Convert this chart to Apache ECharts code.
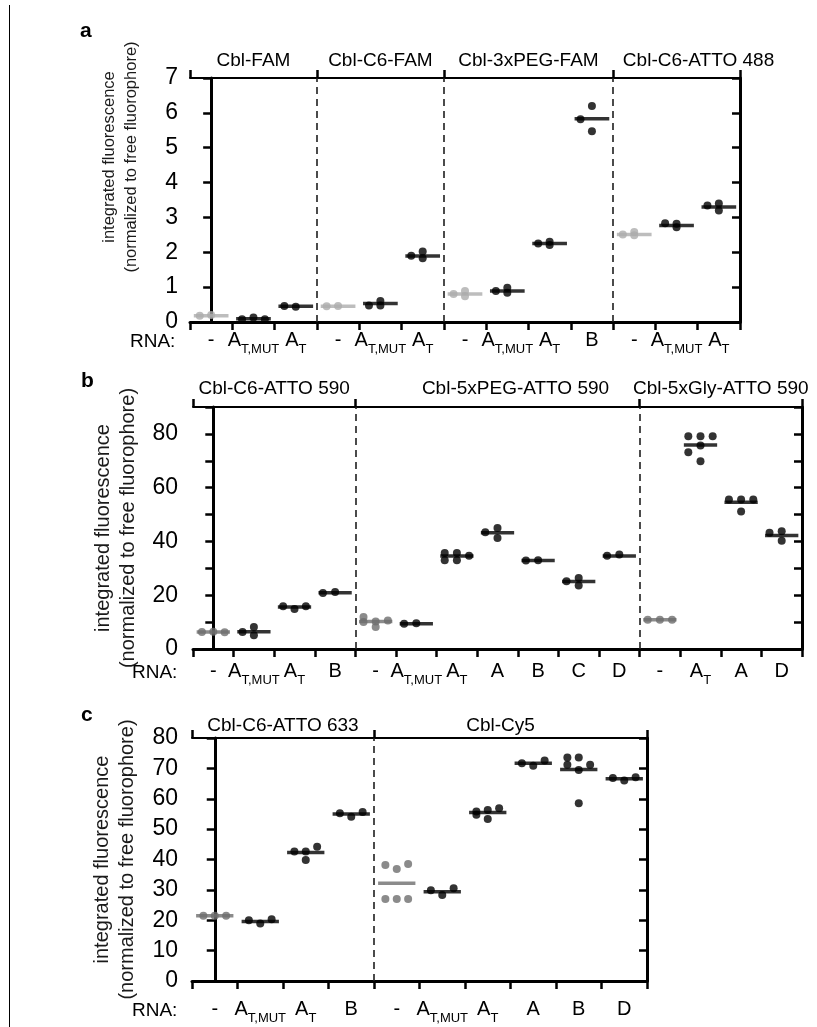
<!DOCTYPE html>
<html>
<head>
<meta charset="utf-8">
<script src="https://cdn.jsdelivr.net/npm/echarts@6/dist/echarts.min.js"></script>
<style>html,body{margin:0;background:#fff}#c{width:817px;height:1027px}</style>
</head>
<body>
<div id="c"></div>
<script>
/* fluorescence scatter panels a/b/c */
const FONT = '"Liberation Sans", Arial, Helvetica, sans-serif';
const YNAME = 'integrated fluorescence\n(normalized to free fluorophore)';

// ---------- panel a ----------
const aTitles = ['Cbl-FAM', 'Cbl-C6-FAM', 'Cbl-3xPEG-FAM', 'Cbl-C6-ATTO 488'];
const aSizes = [3, 3, 4, 3];
const aCats = ['-','ATMUT','AT', '-','ATMUT','AT', '-','ATMUT','AT','B', '-','ATMUT','AT'];
const aMeans = [0.18, 0.09, 0.45, 0.45, 0.53, 1.89, 0.80, 0.89, 2.25, 5.83, 2.51, 2.77, 3.30];
const aPts = [
  [0.18, 0.20], [0.08, 0.13, 0.08], [0.46, 0.44],
  [0.45, 0.46], [0.47, 0.60, 0.47], [1.90, 2.02, 1.83],
  [0.80, 0.89, 0.74], [0.89, 0.98, 0.84], [2.25, 2.30, 2.21], [5.82, 6.20, 5.47],
  [2.51, 2.58, 2.49], [2.83, 2.82, 2.72], [3.34, 3.40, 3.20]
];
const aJit = [
  [-0.27, 0], [-0.27, 0, 0.27], [-0.27, 0],
  [-0.27, 0], [-0.27, 0, 0], [-0.27, 0, 0],
  [-0.27, 0, 0], [-0.27, 0, 0], [-0.27, 0, 0], [-0.27, 0, 0],
  [-0.27, 0, 0], [-0.27, 0, 0], [-0.27, 0, 0]
];

// ---------- panel b ----------
const bTitles = ['Cbl-C6-ATTO 590', 'Cbl-5xPEG-ATTO 590', 'Cbl-5xGly-ATTO 590'];
const bSizes = [4, 7, 4];
const bCats = ['-','ATMUT','AT','B', '-','ATMUT','AT','A','B','C','D', '-','AT','A','D'];
const bMeans = [6.3, 6.4, 15.6, 20.9, 10.2, 9.4, 34.6, 43.2, 32.9, 25.1, 34.6, 10.9, 75.9, 54.6, 42.2];
const bPts = [
  [6.3, 6.4, 6.2], [6.3, 8.2, 5.1], [15.9, 14.9, 15.9], [20.8, 21.2],
  [11.9, 10.0, 10.2, 8.2, 10.6], [9.4, 9.6], [35.7, 33.0, 35.7, 33.0, 34.7], [43.4, 45.0, 41.3],
  [32.9, 33.0], [25.2, 26.4, 23.6], [34.7, 35.1],
  [10.9, 10.9, 10.9], [79.1, 73.2, 79.1, 75.7, 69.8, 79.1], [55.6, 55.6, 51.1, 55.6], [43.2, 43.8, 40.3]
];
const bJit = [
  [-0.28, 0, 0.28], [-0.28, 0, 0], [-0.28, 0, 0.28], [-0.3, 0],
  [-0.3, -0.3, 0, 0, 0.3], [-0.3, 0], [-0.3, -0.3, 0, 0, 0.3], [-0.3, 0, 0],
  [-0.3, 0], [-0.3, 0, 0], [-0.3, 0],
  [-0.3, 0, 0.3], [-0.3, -0.3, 0, 0, 0, 0.3], [-0.3, 0, 0, 0.3], [-0.3, 0, 0]
];

// ---------- panel c ----------
const cTitles = ['Cbl-C6-ATTO 633', 'Cbl-Cy5'];
const cSizes = [4, 6];
const cCats = ['-','ATMUT','AT','B', '-','ATMUT','AT','A','B','D'];
const cMeans = [21.5, 19.6, 42.3, 55.0, 32.2, 29.4, 55.5, 71.7, 69.6, 66.6];
const cPts = [
  [21.5, 21.5, 21.5], [20.0, 18.9, 20.3], [42.6, 42.6, 39.8, 44.2], [55.2, 54.1, 55.6],
  [38.2, 27.0, 36.9, 27.0, 38.5, 27.0], [29.9, 28.3, 30.5], [55.8, 54.7, 56.3, 53.3, 56.9],
  [71.7, 70.9, 72.6], [73.6, 71.2, 73.6, 69.5, 58.5, 71.2], [66.8, 66.0, 67.1]
];
const cJit = [
  [-0.25, 0, 0.25], [-0.25, 0, 0.25], [-0.25, 0, 0, 0.25], [-0.25, 0, 0.25],
  [-0.25, -0.25, 0, 0, 0.25, 0.25], [-0.25, 0, 0.25], [-0.25, -0.25, 0, 0, 0.25],
  [-0.25, 0, 0.25], [-0.25, -0.25, 0, 0, 0, 0.25], [-0.25, 0, 0.25]
];

const PANELS = [
  { titles:aTitles, sizes:aSizes, cats:aCats, means:aMeans, pts:aPts, jit:aJit,
    max:7, step:1, labelStep:1, gray:'#adadad',
    grid:{left:190, top:78, width:550, height:244},
    nameSize:16.5, nameLH:22, nameGap:48, namePad:[0,0,0,86], lblMargin:12, catMargin:8,
    titleDist:8, titleOff:[0,0,0,22] },
  { titles:bTitles, sizes:bSizes, cats:bCats, means:bMeans, pts:bPts, jit:bJit,
    max:90, step:10, labelStep:20, gray:'#6e6e6e',
    grid:{left:193, top:407, width:609, height:242},
    nameSize:20, nameLH:25, nameGap:52, namePad:0, lblMargin:15, catMargin:12,
    titleDist:9, titleOff:[0,18,0] },
  { titles:cTitles, sizes:cSizes, cats:cCats, means:cMeans, pts:cPts, jit:cJit,
    max:80, step:10, labelStep:10, gray:'#6e6e6e',
    grid:{left:192, top:738, width:455, height:243},
    nameSize:20, nameLH:25, nameGap:52, namePad:0, lblMargin:14, catMargin:18,
    titleDist:3, titleOff:[0,-10] }
];

const RICH = {
  m:{fontSize:20, lineHeight:26, verticalAlign:'top', color:'#000', fontFamily:FONT},
  s:{fontSize:13, lineHeight:10, verticalAlign:'bottom', color:'#000', fontFamily:FONT}
};
function fmtCat(v){
  if(v==='ATMUT') return '{m|A}{s|T,MUT}';
  if(v==='AT') return '{m|A}{s|T}';
  return '{m|'+v+'}';
}

const grids=[], xAxes=[], yAxes=[], series=[];
PANELS.forEach((p,g)=>{
  const n = p.cats.length;
  const starts=[]; let s=0; p.sizes.forEach(k=>{starts.push(s); s+=k;});
  const edges = starts.concat([n]);
  const cw = p.grid.width / n;
  const black=[], gray=[], mBlack=[], mGray=[];
  p.pts.forEach((vals,i)=>{
    const isGray = starts.includes(i);
    vals.forEach((v,j)=>(isGray?gray:black).push([i + p.jit[i][j], v]));
    (isGray?mGray:mBlack).push([i, p.means[i]]);
  });

  grids.push(p.grid);
  const AXL = {show:true, lineStyle:{color:'#000', width:3}};
  xAxes.push(
    {type:'category', gridIndex:g, data:p.cats, position:'bottom', boundaryGap:true,
     axisLine:AXL, axisTick:{show:true, interval:0, length:8, lineStyle:{color:'#000', width:2.5}},
     axisLabel:{interval:0, margin:p.catMargin, formatter:fmtCat, rich:RICH, hideOverlap:false},
     splitLine:{show:false}},
    {type:'value', gridIndex:g, min:-0.5, max:n-0.5, show:false},
    {type:'category', gridIndex:g, data:p.cats, position:'top', boundaryGap:true,
     axisLine:{show:true, lineStyle:{color:'#000', width:2}},
     axisTick:{show:true, length:8, interval:(i)=>edges.includes(i), lineStyle:{color:'#000', width:2.5}},
     axisLabel:{show:false}, splitLine:{show:false}}
  );
  yAxes.push(
    {type:'value', gridIndex:g, min:0, max:p.max, interval:p.step, position:'left',
     axisLine:AXL, axisTick:{show:true, length:8, lineStyle:{color:'#000', width:2.5}},
     axisLabel:{fontSize:23, color:'#000', fontFamily:FONT, margin:p.lblMargin,
       formatter:v=>(Math.round(v) % p.labelStep === 0 ? String(v) : '')},
     splitLine:{show:false},
     name:YNAME, nameLocation:'middle', nameGap:p.nameGap,
     nameTextStyle:{fontSize:p.nameSize, lineHeight:p.nameLH, color:'#1a1a1a', fontFamily:FONT, padding:p.namePad}},
    {type:'value', gridIndex:g, min:0, max:p.max, interval:p.step, position:'right',
     axisLine:AXL, axisTick:{show:true, inside:true, length:8, lineStyle:{color:'#000', width:2.5}},
     axisLabel:{show:false}, splitLine:{show:false}}
  );

  const xi = 3*g+1, yi = 2*g;
  const base = {type:'scatter', xAxisIndex:xi, yAxisIndex:yi, silent:true, emphasis:{disabled:true}};
  series.push(
    Object.assign({}, base, {name:'mean'+g, data:mBlack, symbol:'rect', symbolSize:[cw*0.82, 3.5],
      itemStyle:{color:'#000'}, z:2,
      markLine:{silent:true, symbol:'none', label:{show:false},
        lineStyle:{type:[7,5], color:'#1e1e1e', width:1.6},
        data:starts.slice(1).map(b=>({xAxis:b-0.5}))},
      markArea:{silent:true, itemStyle:{color:'rgba(0,0,0,0)'},
        label:{show:true, position:'top', distance:p.titleDist, fontSize:19, color:'#000', fontFamily:FONT},
        data:p.titles.map((t,k)=>[
          {name:t, xAxis:starts[k]-0.5, label:{offset:[p.titleOff[k]||0, 0]}},
          {xAxis:starts[k]+p.sizes[k]-0.5}])}}),
    Object.assign({}, base, {name:'meanGray'+g, data:mGray, symbol:'rect', symbolSize:[cw*0.82, 3.5],
      itemStyle:{color:p.gray}, z:2}),
    Object.assign({}, base, {name:'pts'+g, data:black, symbolSize:8, itemStyle:{color:'#000'}, z:3}),
    Object.assign({}, base, {name:'ptsGray'+g, data:gray, symbolSize:8, itemStyle:{color:p.gray}, z:3})
  );
});

const txt = (x,y,text,opt={}) => ({type:'text', x, y, style:Object.assign({text, fill:'#000',
  font:'19px '+FONT, verticalAlign:'middle'}, opt)});
const graphic = [
  {type:'line', shape:{x1:9.5, y1:5, x2:9.5, y2:1027}, style:{stroke:'#000', lineWidth:1}},
  txt(80, 31, 'a', {font:'bold 21px '+FONT}),
  txt(81, 381, 'b', {font:'bold 21px '+FONT}),
  txt(81, 715, 'c', {font:'bold 21px '+FONT}),
  txt(130, 342, 'RNA:'),
  txt(132, 673, 'RNA:'),
  txt(132, 1011, 'RNA:')
];

const chart = echarts.init(document.getElementById('c'), null, {renderer:'canvas'});
chart.setOption({
  animation:false,
  textStyle:{fontFamily:FONT},
  grid:grids, xAxis:xAxes, yAxis:yAxes, series, graphic
});
</script>
</body>
</html>
